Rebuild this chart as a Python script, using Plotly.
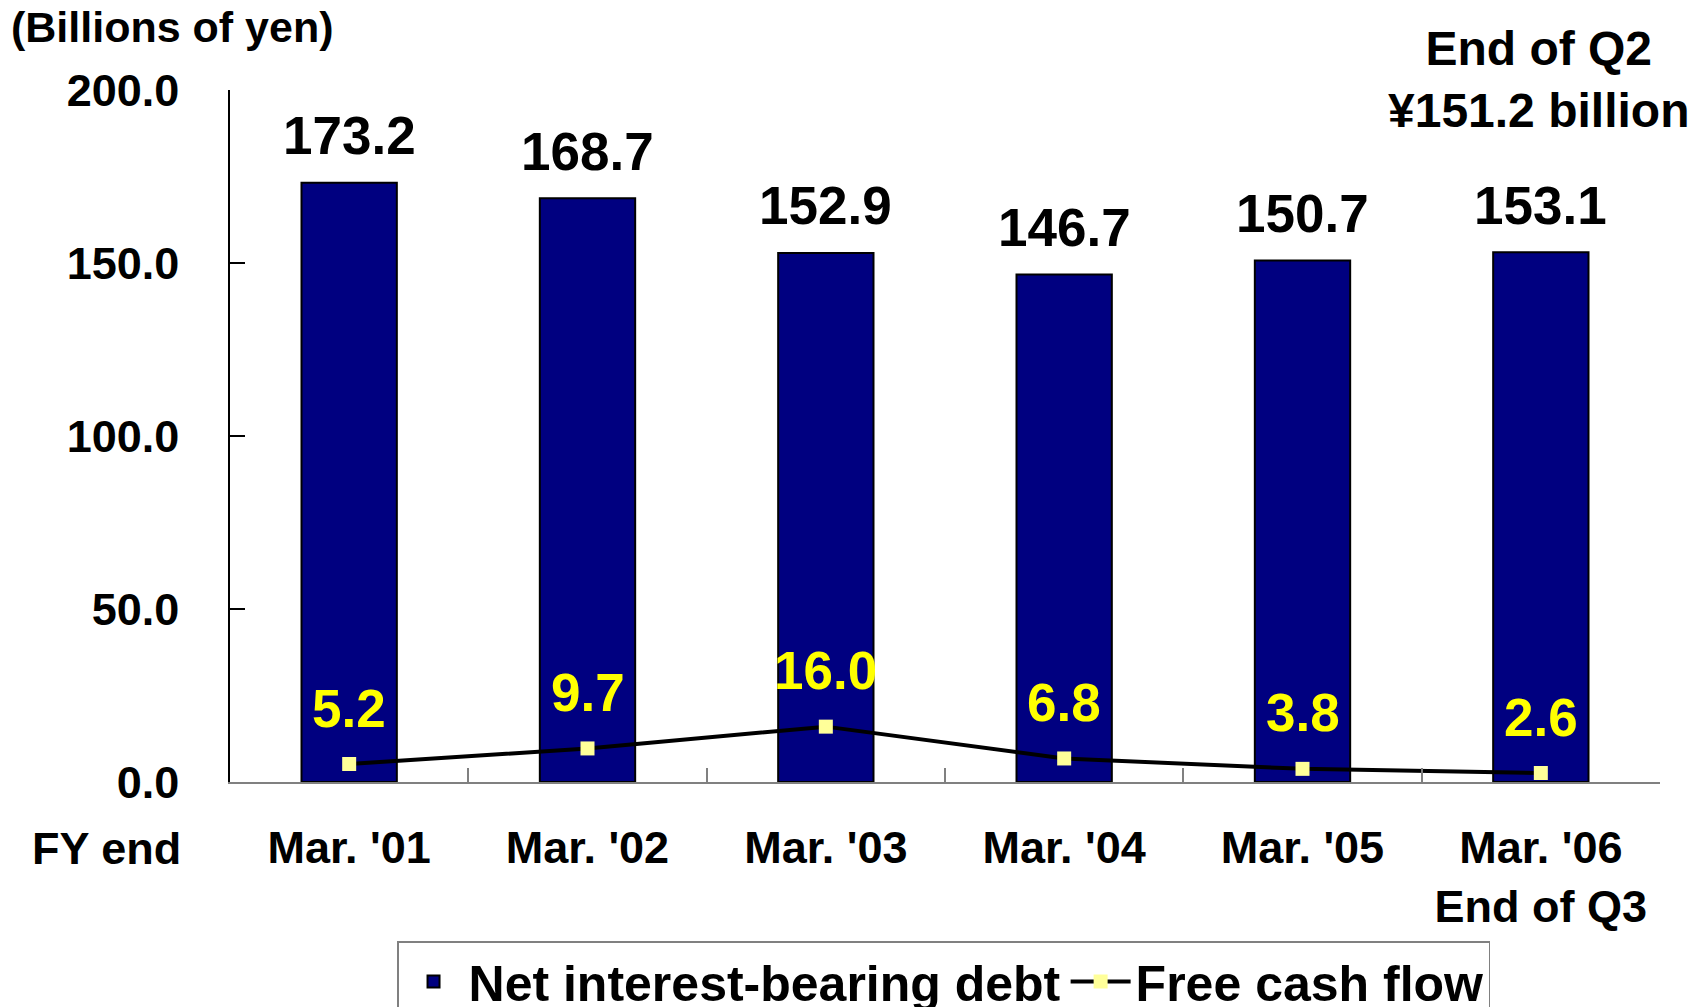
import plotly.graph_objects as go

categories = ["Mar. '01", "Mar. '02", "Mar. '03", "Mar. '04", "Mar. '05", "Mar. '06<br>End of Q3"]
net_debt = [173.2, 168.7, 152.9, 146.7, 150.7, 153.1]
free_cash_flow = [5.2, 9.7, 16.0, 6.8, 3.8, 2.6]
y_ticks = [0, 50, 100, 150, 200]

FONT = "Liberation Sans, Arial, sans-serif"

fig = go.Figure()
fig.add_trace(go.Bar(
    x=categories, y=net_debt, name="Net interest-bearing debt",
    marker=dict(color="#000080", line=dict(color="black", width=2)),
))
fig.add_trace(go.Scatter(
    x=categories, y=free_cash_flow, name="Free cash flow",
    mode="lines+markers",
    line=dict(color="black", width=4),
    marker=dict(symbol="square", size=14, color="#FFFF99"),
))

annotations = []
for c, v in zip(categories, net_debt):
    annotations.append(dict(x=c, y=v, xref="x", yref="y", text=f"{v:.1f}",
                            showarrow=False, yanchor="middle", yshift=47,
                            font=dict(family=FONT, size=53, color="black", weight="bold")))
for c, v in zip(categories, free_cash_flow):
    annotations.append(dict(x=c, y=v, xref="x", yref="y", text=f"{v:.1f}",
                            showarrow=False, yanchor="middle", yshift=56,
                            font=dict(family=FONT, size=53, color="#FFFF00", weight="bold")))
annotations.append(dict(x=-0.1545, y=1.091, xref="paper", yref="paper", text="(Billions of yen)",
                        showarrow=False, xanchor="left", yanchor="middle",
                        font=dict(family=FONT, size=43, color="black", weight="bold")))
annotations.append(dict(x=0.9147, y=1.0145, xref="paper", yref="paper",
                        text="End of Q2<br>¥151.2 billion",
                        showarrow=False, xanchor="center", yanchor="middle",
                        font=dict(family=FONT, size=48, color="black", weight="bold")))
annotations.append(dict(x=-0.0329, y=-0.0954, xref="paper", yref="paper", text="FY end",
                        showarrow=False, xanchor="right", yanchor="middle",
                        font=dict(family=FONT, size=45, color="black", weight="bold")))

fig.update_layout(
    width=1704, height=1007,
    margin=dict(l=230, r=44, t=90, b=225, autoexpand=False),
    paper_bgcolor="white", plot_bgcolor="white",
    bargap=0.6,
    showlegend=True,
    legend=dict(orientation="h", x=0.1168, y=-0.2298, xanchor="left", yanchor="top",
                bordercolor="#808080", borderwidth=1.5, bgcolor="white",
                font=dict(family=FONT, size=50, color="black", weight="bold"),
                itemwidth=60, traceorder="normal"),
    annotations=annotations,
    font=dict(family=FONT, color="black"),
)
fig.update_xaxes(
    type="category", showgrid=False, showline=True, linecolor="#808080", linewidth=2,
    ticks="inside", tickson="boundaries", ticklen=14, tickcolor="#808080", tickwidth=1.5,
    tickfont=dict(family=FONT, size=45, color="black", weight="bold"),
    ticklabelstandoff=25,
)
fig.update_yaxes(
    range=[0, 200], tickvals=y_ticks, tickformat=".1f", showgrid=False, zeroline=False,
    showline=True, linecolor="black", linewidth=1.5,
    ticks="inside", ticklen=15, tickcolor="black", tickwidth=1.5,
    tickfont=dict(family=FONT, size=45, color="black", weight="bold"),
    ticklabelstandoff=40,
)

fig.write_html("out.html", config={"displayModeBar": False},
               post_script="document.body.style.margin='0';")
